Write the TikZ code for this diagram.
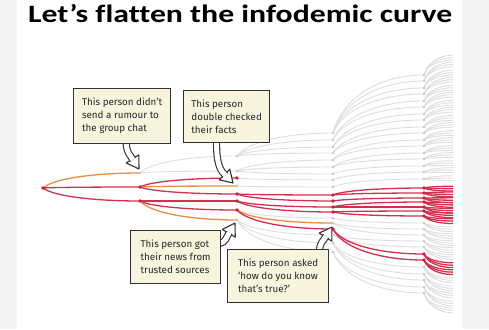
\documentclass[tikz,border=0pt]{standalone}
\usepackage{graphicx}
\usepackage{fontspec}
\newfontfamily\titlefont{Carlito}[Ligatures=NoCommon]
\newfontfamily\notefont{Fira Sans}
\usetikzlibrary{calc}
\pgfdeclarelayer{back}\pgfdeclarelayer{edges}\pgfdeclarelayer{arrows}
\pgfsetlayers{back,edges,arrows,main}
\definecolor{rd}{RGB}{206,28,60}
\definecolor{rdl}{RGB}{212,48,78}
\definecolor{org}{RGB}{232,140,70}
\definecolor{gl}{RGB}{222,222,222}
\definecolor{gd}{RGB}{198,198,198}
\definecolor{cream}{RGB}{248,245,222}
\definecolor{bord}{RGB}{50,50,50}
\definecolor{side}{RGB}{245,245,245}
\tikzset{
  rdot/.style={circle,fill=rd,inner sep=0pt,minimum size=3.8pt},
  gdot/.style={circle,fill=gd,inner sep=0pt,minimum size=2.8pt},
  rl/.style={draw=rdl,line width=1.3pt},
  ol/.style={draw=org,line width=1.3pt},
  gline/.style={draw=gl,line width=0.9pt},
  callout/.style={draw=bord,line width=1.3pt,fill=cream,font=\notefont\fontsize{9.8}{13}\selectfont,align=left,inner sep=0pt,anchor=north west,text=black!85},
  ahead/.style={fill=white,draw=bord,line width=1.1pt,line join=round},
  ashaft/.style={draw=bord,line width=1.1pt,double=white,double distance=5pt},
}
\newcommand\lnk[3]{\draw[#3] let \p1=(#1.center), \p2=(#2.center) in (\p1) .. controls ({\x1+0.1*(\x2-\x1)},{\y1+0.6*(\y2-\y1)}) and ({\x1+0.5*(\x2-\x1)},{\y2}) .. (\p2);}
\newcommand\callarrow[4]{%
  \path ($(#4)!12pt!(#3)$) coordinate (hb);
  \filldraw[ahead] (#4) -- ($(hb)!7.5pt!90:(#4)$) -- ($(hb)!7.5pt!-90:(#4)$) -- cycle;
  \draw[ashaft] (#1) .. controls (#2) and (#3) .. ($(#4)!11pt!(#3)$);
}
\begin{document}
\begin{tikzpicture}[x=1pt,y=-1pt]
\useasboundingbox (0,0) rectangle (489,329);
\begin{pgfonlayer}{back}
\fill[side] (0,0) rectangle (489,329);
\fill[white] (17,0) rectangle (462,329);
\end{pgfonlayer}
% title
\node[anchor=base west,inner sep=0pt,font=\titlefont\bfseries\fontsize{25}{30}\selectfont] (title) at (28,23) {\scalebox{1.27}[1]{Let’s flatten the infodemic curve}};
% nodes
\node[rdot] (R) at (43,188) {};
\foreach \n/\y/\s in {a1/173/gdot,a2/187/rdot,a3/201/rdot}
  \node[\s] (\n) at (140,\y) {};
\foreach \n/\y/\s in {b1/156/gdot,b2/171/gdot,b3/178/rdot,b4/186/gdot,b5/194/rdot,b6/201/rdot,b7/210/rdot,b8/220/gdot}
  \node[\s] (\n) at (237,\y) {};
\foreach \n/\y/\s in {c1/133/gdot,c2/140/gdot,c3/147/gdot,c4/153/gdot,c5/160/gdot,c6/167/gdot,c7/174/gdot,c8/180/gdot,c9/187/gdot,c10/195/rdot,c11/201/rdot,c12/207/rdot,c13/212/rdot,c14/218/gdot,c15/223/gdot,c16/229/rdot,c17/235/gdot,c18/243/gdot,c19/252/gdot}
  \node[\s] (\n) at (333,\y) {};
\foreach \n/\y/\s in {1/75/gdot,2/81/gdot,3/88/gdot,4/94/gdot,5/101/gdot,6/107/gdot,7/114/gdot,8/120/gdot,9/127/gdot,10/133/gdot,11/140/gdot,12/146/gdot,13/153/gdot,14/159/gdot,15/166/gdot,16/172/gdot,17/179/gdot,18/188/rdot,19/193/rdot,20/198/rdot,21/202/rdot,22/207/rdot,23/211/rdot,24/216/rdot,25/223/gdot,26/229/gdot,27/235/gdot,28/241/gdot,29/247/gdot,30/254/rdot,31/260/rdot,32/267/gdot,33/274/gdot,34/280/gdot,35/287/gdot,36/293/gdot}
  \node[\s] (d\n) at (424,\y) {};
% edges
\begin{pgfonlayer}{edges}
\foreach \pa/\ch/\st in {R/a1/ol,R/a2/rl,R/a3/rl,
  a1/b1/gline,a1/b2/gline,a2/b3/rl,a2/b4/ol,a2/b5/rl,a3/b6/rl,a3/b7/rl,a3/b8/ol,
  b1/c1/gline,b1/c2/gline,b1/c3/gline,b1/c4/gline,b2/c5/gline,b2/c6/gline,b2/c7/gline,
  b3/c8/gline,b4/c9/gline,b8/c17/gline,b8/c18/gline,b8/c19/gline,b7/c14/gline,
  b5/c10/rl,b5/c11/rl,b6/c12/rl,b6/c13/rl,b7/c15/ol,b7/c16/rl,
  c1/d1/gline,c1/d2/gline,c1/d3/gline,c1/d4/gline,c2/d5/gline,c2/d6/gline,c3/d7/gline,c3/d8/gline,
  c4/d9/gline,c4/d10/gline,c5/d11/gline,c5/d12/gline,c6/d13/gline,c6/d14/gline,c7/d15/gline,
  c8/d16/gline,c9/d17/gline,c14/d25/gline,c15/d26/gline,c15/d27/gline,c17/d28/gline,c17/d29/gline,
  c18/d32/gline,c18/d33/gline,c18/d34/gline,c19/d35/gline,c19/d36/gline,
  c10/d18/rl,c10/d19/rl,c11/d20/rl,c12/d21/rl,c12/d22/rl,c13/d23/rl,c13/d24/rl,c16/d30/rl,c16/d31/rl}
  \lnk{\pa}{\ch}{\st};
\foreach \i/\y/\st in {1/75/gline,2/81/gline,3/88/gline,4/94/gline,5/101/gline,6/107/gline,7/114/gline,8/120/gline,9/127/gline,10/133/gline,11/140/gline,12/146/gline,13/153/gline,14/159/gline,15/166/gline,16/172/gline,17/179/gline,25/223/gline,26/229/gline,27/235/gline,28/241/gline,29/247/gline,32/267/gline,33/274/gline,34/280/gline,35/287/gline,36/293/gline,18/188/rl,19/193/rl,20/198/rl,21/202/rl,22/207/rl,23/211/rl,24/216/rl,30/254/rl,31/260/rl}{
  \pgfmathsetmacro\ty{184+(\y-184)*1.16}
  \foreach \k in {-2.4,0,2.4}{
    \coordinate (e) at (453,{\ty+\k});
    \lnk{d\i}{e}{\st}
  }
}
\end{pgfonlayer}
% callouts
\node[callout,minimum width=97pt,minimum height=55pt] (box1) at (73,88) {This person didn’t\\send a rumour to\\the group chat};
\node[callout,minimum width=86pt,minimum height=52pt] (box2) at (183,90) {This person\\double checked\\their facts};
\node[callout,minimum width=90pt,minimum height=53pt] (box3) at (130,230) {This person got\\their news from\\trusted sources};
\node[callout,minimum width=101pt,minimum height=53pt] (box4) at (227,249) {This person asked\\‘how do you know\\that’s true?’};
\begin{pgfonlayer}{arrows}
\coordinate (s1) at ($(box1.south)+(4,-3)$);
\coordinate (t1) at ($(a1)+(-1,-4)$);
\coordinate (s2) at ($(box2.south)+(-10,-3)$);
\coordinate (t2) at ($(b4)+(-4,-3)$);
\coordinate (s3) at ($(box3.east)+(-2,-13.5)$);
\coordinate (t3) at ($(b8)+(-2,3)$);
\coordinate (s4) at ($(box4.north)+(41.5,3)$);
\coordinate (t4) at ($(c15)+(-1,4)$);
\callarrow{s1}{126,152}{130,155}{t1}
\callarrow{s2}{216,165}{221,171}{t2}
\callarrow{s3}{226,242}{226,238}{t3}
\callarrow{s4}{319,244}{323,241}{t4}
\end{pgfonlayer}
\end{tikzpicture}
\end{document}
